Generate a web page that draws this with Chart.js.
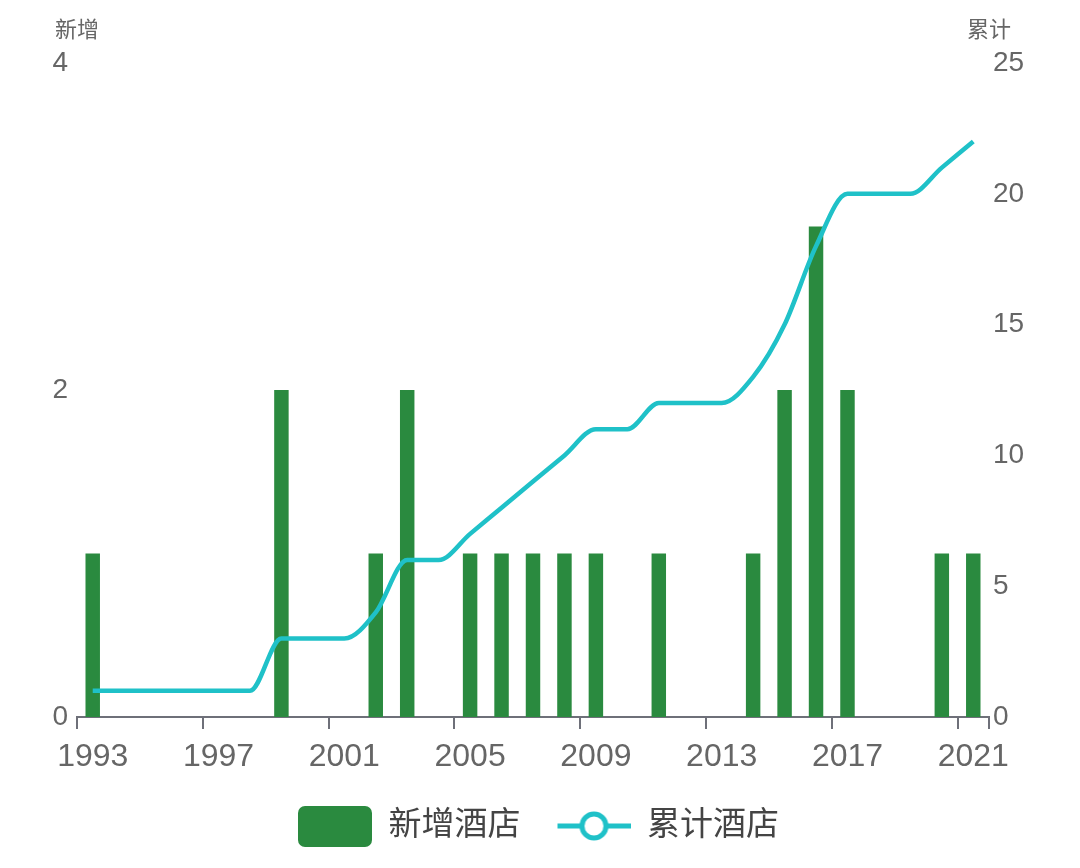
<!DOCTYPE html>
<html>
<head>
<meta charset="utf-8">
<title>新增酒店 / 累计酒店</title>
<script src="https://cdn.jsdelivr.net/npm/chart.js@4/dist/chart.umd.min.js"></script>
<style>
  html, body { margin: 0; padding: 0; background: #ffffff; }
  #wrap { width: 1080px; height: 868px; position: relative; }
</style>
</head>
<body>
<div id="wrap"><canvas id="hotelChart" width="1080" height="868"></canvas></div>
<script>
// data
const years = ['1993', '1994', '1995', '1996', '1997', '1998', '1999', '2000', '2001', '2002',
               '2003', '2004', '2005', '2006', '2007', '2008', '2009', '2010', '2011', '2012',
               '2013', '2014', '2015', '2016', '2017', '2018', '2019', '2020', '2021'];
const newHotels = [1, 0, 0, 0, 0, 0, 2, 0, 0, 1,
                   2, 0, 1, 1, 1, 1, 1, 0, 1, 0,
                   0, 1, 2, 3, 2, 0, 0, 1, 1];
const totalHotels = [1, 1, 1, 1, 1, 1, 3, 3, 3, 4,
                     6, 6, 7, 8, 9, 10, 11, 11, 12, 12,
                     12, 13, 15, 18, 20, 20, 20, 21, 22];
const seriesNames = ['新增酒店', '累计酒店'];
const axisNames = ['新增', '累计'];

const FONT = '"Liberation Sans", "Noto Sans CJK SC", sans-serif';
const BAR_COLOR = '#2a8a3f';
const LINE_COLOR = '#1fc1c8';
const TEXT_COLOR = '#666666';
const AXIS_COLOR = '#6e7079';

// legend icons (echarts style): rounded box and line with hollow circle
function makeIcon(kind) {
    const c = document.createElement('canvas');
    c.width = 90;
    c.height = 44;
    const g = c.getContext('2d');
    if (kind === 'box') {
        g.fillStyle = BAR_COLOR;
        g.beginPath();
        g.roundRect(16, 2, 74, 41, 7);
        g.fill();
    } else {
        g.strokeStyle = LINE_COLOR;
        g.lineWidth = 5;
        g.beginPath();
        g.moveTo(17, 22);
        g.lineTo(90, 22);
        g.stroke();
        g.beginPath();
        g.arc(53.5, 22, 12, 0, Math.PI * 2);
        g.fillStyle = '#ffffff';
        g.fill();
        g.stroke();
    }
    return c;
}
const legendIcons = [makeIcon('box'), makeIcon('line')];

// axis names above the y axes
const axisNamePlugin = {
    id: 'axisNames',
    afterDraw(chart) {
        const {ctx, chartArea} = chart;
        ctx.save();
        ctx.font = '22px ' + FONT;
        ctx.fillStyle = TEXT_COLOR;
        ctx.textAlign = 'center';
        ctx.textBaseline = 'middle';
        ctx.fillText(axisNames[0], chartArea.left, 31);
        ctx.fillText(axisNames[1], chartArea.right, 31);
        ctx.restore();
    }
};

const ctx = document.getElementById('hotelChart').getContext('2d');
new Chart(ctx, {
    data: {
        labels: years,
        datasets: [
            {
                type: 'bar',
                label: seriesNames[0],
                data: newHotels,
                yAxisID: 'y',
                backgroundColor: BAR_COLOR,
                barPercentage: 0.46,
                categoryPercentage: 1,
                order: 1
            },
            {
                type: 'line',
                label: seriesNames[1],
                data: totalHotels,
                yAxisID: 'y1',
                borderColor: LINE_COLOR,
                backgroundColor: '#ffffff',
                borderWidth: 4.5,
                cubicInterpolationMode: 'monotone',
                pointRadius: 0,
                pointHoverRadius: 0,
                order: 0
            }
        ]
    },
    options: {
        responsive: false,
        animation: false,
        layout: {
            padding: { top: 63, left: 0, right: 19, bottom: 15.5 }
        },
        plugins: {
            tooltip: { enabled: false },
            legend: {
                position: 'bottom',
                labels: {
                    usePointStyle: true,
                    pointStyleWidth: 90,
                    padding: 20,
                    color: '#444444',
                    font: { size: 33, family: FONT },
                    sort: (a, b) => a.datasetIndex - b.datasetIndex,
                    generateLabels(chart) {
                        const items = Chart.defaults.plugins.legend.labels.generateLabels(chart);
                        items.forEach(item => { item.pointStyle = legendIcons[item.datasetIndex]; });
                        return items;
                    }
                }
            }
        },
        scales: {
            x: {
                type: 'category',
                offset: true,
                grid: {
                    display: true,
                    offset: true,
                    drawOnChartArea: false,
                    drawTicks: true,
                    tickLength: 12,
                    lineWidth: 2,
                    color: (c) => (c.index === undefined || c.index % 4 === 0) ? AXIS_COLOR : 'rgba(0,0,0,0)'
                },
                border: { display: true, color: AXIS_COLOR, width: 2 },
                ticks: {
                    autoSkip: false,
                    maxRotation: 0,
                    padding: 9,
                    color: TEXT_COLOR,
                    font: { size: 32, family: FONT },
                    callback: (val, idx) => idx % 4 === 0 ? years[idx] : ''
                },
                afterFit: (scale) => { scale.height = 72.5; }
            },
            y: {
                position: 'left',
                min: 0,
                max: 4,
                grid: { display: false, drawTicks: false },
                border: { display: false },
                ticks: {
                    stepSize: 2,
                    padding: 9,
                    color: TEXT_COLOR,
                    font: { size: 28, family: FONT }
                },
                afterFit: (scale) => { scale.width = 77; }
            },
            y1: {
                position: 'right',
                min: 0,
                max: 25,
                grid: { display: false, drawTicks: false },
                border: { display: false },
                ticks: {
                    stepSize: 5,
                    padding: 4,
                    color: TEXT_COLOR,
                    font: { size: 28, family: FONT }
                },
                afterFit: (scale) => { scale.width = 72; }
            }
        }
    },
    plugins: [axisNamePlugin]
});
</script>
</body>
</html>
